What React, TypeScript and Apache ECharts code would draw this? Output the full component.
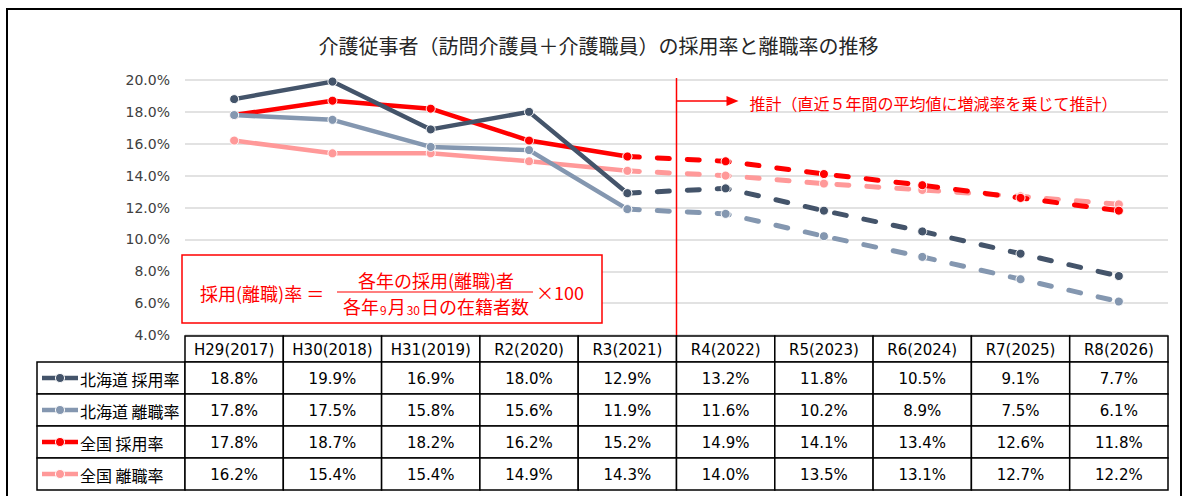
import React, { useEffect, useRef } from "react";
import * as echarts from "echarts";

const categories = [
  "H29(2017)", "H30(2018)", "H31(2019)", "R2(2020)", "R3(2021)",
  "R4(2022)", "R5(2023)", "R6(2024)", "R7(2025)", "R8(2026)",
];
const hokkaidoHire = [18.8, 19.9, 16.9, 18.0, 12.9, 13.2, 11.8, 10.5, 9.1, 7.7];
const hokkaidoLeave = [17.8, 17.5, 15.8, 15.6, 11.9, 11.6, 10.2, 8.9, 7.5, 6.1];
const nationalHire = [17.8, 18.7, 18.2, 16.2, 15.2, 14.9, 14.1, 13.4, 12.6, 11.8];
const nationalLeave = [16.2, 15.4, 15.4, 14.9, 14.3, 14.0, 13.5, 13.1, 12.7, 12.2];
const seriesNames = ["北海道 採用率", "北海道 離職率", "全国 採用率", "全国 離職率"];
const seriesColors = ["#44546A", "#8497B0", "#FF0000", "#FF9999"];
const seriesValues = [hokkaidoHire, hokkaidoLeave, nationalHire, nationalLeave];
const lastActualIndex = 4;
const yTicks = { min: 4, max: 20, interval: 2 };

const titleText = "介護従事者（訪問介護員＋介護職員）の採用率と離職率の推移";
const noteText = "推計（直近５年間の平均値に増減率を乗じて推計）";

const W = 1189;
const H = 496;
const gridLeft = 185;
const gridRightEdge = 1168;
const gridTop = 80;
const gridBottomEdge = 335;

const CJK = "'Noto Sans CJK JP', 'Noto Sans', sans-serif";
const NUM = "'DejaVu Sans', Verdana, sans-serif";

export default function App() {
  const ref = useRef<HTMLDivElement>(null);

  useEffect(() => {
    if (!ref.current) return;
    const chart = echarts.init(ref.current, undefined, { renderer: "svg", width: W, height: H });

    const series: any[] = [];
    seriesValues.forEach((vals, si) => {
      const color = seriesColors[si];
      const solid = vals.map((v, i) => (i <= lastActualIndex ? v : null));
      const dashed = vals.map((v, i) => (i >= lastActualIndex ? v : null));
      series.push({
        name: seriesNames[si],
        type: "line",
        data: solid,
        z: 10 - si,
        symbol: "circle",
        symbolSize: 9,
        itemStyle: { color, borderColor: "#fff", borderWidth: 1 },
        lineStyle: { color, width: 4.5, cap: "round", join: "round" },
        connectNulls: false,
      });
      series.push({
        name: seriesNames[si] + "（推計）",
        type: "line",
        data: dashed,
        z: 10 - si,
        symbol: "circle",
        symbolSize: 9,
        itemStyle: { color, borderColor: "#fff", borderWidth: 1 },
        lineStyle: { color, width: 5, type: [12, 18], cap: "round" },
        connectNulls: false,
      });
    });

    const n = categories.length;
    const colW = (gridRightEdge - gridLeft) / n;
    const headerTop = 336;
    const headerH = 26;
    const rowTop = headerTop + headerH;
    const rowH = 32;
    const legendLeft = 37;

    const graphics: any[] = [];
    // outer border
    graphics.push({
      type: "rect",
      shape: { x: 7, y: 9, width: 1174, height: 520 },
      style: { fill: "none", stroke: "#000", lineWidth: 2 },
      z: 100,
    });
    // title
    graphics.push({
      type: "text",
      x: W / 2 + 4,
      y: 45,
      style: {
        text: titleText,
        font: `20px ${CJK}`,
        fill: "#262626",
        textAlign: "center",
        textVerticalAlign: "middle",
      },
    });
    // projection divider
    const divX = gridLeft + colW * (lastActualIndex + 1);
    graphics.push({
      type: "line",
      shape: { x1: divX, y1: 78, x2: divX, y2: headerTop },
      style: { stroke: "#FF0000", lineWidth: 1.5 },
      z: 50,
    });
    graphics.push({
      type: "line",
      shape: { x1: divX, y1: 101, x2: divX + 52, y2: 101 },
      style: { stroke: "#FF0000", lineWidth: 1.5 },
      z: 50,
    });
    graphics.push({
      type: "polygon",
      shape: { points: [[divX + 50, 96], [divX + 62, 101], [divX + 50, 106]] },
      style: { fill: "#FF0000" },
      z: 50,
    });
    graphics.push({
      type: "text",
      x: divX + 73,
      y: 103,
      style: {
        text: noteText,
        font: `16px ${CJK}`,
        fill: "#FF0000",
        textVerticalAlign: "middle",
      },
      z: 50,
    });

    // formula box
    graphics.push({
      type: "rect",
      shape: { x: 182, y: 255, width: 420, height: 68 },
      style: { fill: "#fff", stroke: "#FF0000", lineWidth: 1.5 },
      z: 60,
    });
    graphics.push({
      type: "text",
      x: 200,
      y: 293,
      style: {
        text: "採用(離職)率 ＝",
        font: `18px ${CJK}`,
        fill: "#FF0000",
        textVerticalAlign: "middle",
      },
      z: 61,
    });
    graphics.push({
      type: "text",
      x: 436,
      y: 280,
      style: {
        text: "各年の採用(離職)者",
        font: `18px ${CJK}`,
        lineHeight: 20,
        fill: "#FF0000",
        textAlign: "center",
        textVerticalAlign: "middle",
      },
      z: 61,
    });
    graphics.push({
      type: "line",
      shape: { x1: 337, y1: 292, x2: 533, y2: 292 },
      style: { stroke: "#FF0000", lineWidth: 1.2 },
      z: 61,
    });
    graphics.push({
      type: "text",
      x: 436,
      y: 305,
      style: {
        text: "{a|各年}{s|9}{a|月}{s|30}{a|日の在籍者数}",
        textAlign: "center",
        textVerticalAlign: "middle",
        rich: {
          a: { font: `18px ${CJK}`, fill: "#FF0000", lineHeight: 20, verticalAlign: "bottom" },
          s: { font: `12px ${CJK}`, fill: "#FF0000", lineHeight: 20, verticalAlign: "bottom", padding: [0, 1, 0, 1] },
        },
      },
      z: 61,
    });
    graphics.push({
      type: "text",
      x: 536,
      y: 292,
      style: {
        text: "×100",
        font: `18px ${CJK}`,
        fill: "#FF0000",
        textVerticalAlign: "middle",
      },
      z: 61,
    });

    // data table header
    categories.forEach((c, i) => {
      const x = gridLeft + colW * i;
      graphics.push({
        type: "rect",
        shape: { x, y: headerTop, width: colW, height: headerH },
        style: { fill: "#fff", stroke: "#000", lineWidth: 1.5 },
        z: 70,
      });
      graphics.push({
        type: "text",
        x: x + colW / 2,
        y: headerTop + headerH / 2 + 1,
        style: {
          text: c,
          font: `15px ${NUM}`,
          fill: "#000",
          textAlign: "center",
          textVerticalAlign: "middle",
        },
        z: 71,
      });
    });
    // data rows
    seriesValues.forEach((vals, si) => {
      const y = rowTop + rowH * si;
      const color = seriesColors[si];
      graphics.push({
        type: "rect",
        shape: { x: legendLeft, y, width: gridLeft - legendLeft, height: rowH },
        style: { fill: "#fff", stroke: "#000", lineWidth: 1.5 },
        z: 70,
      });
      graphics.push({
        type: "line",
        shape: { x1: legendLeft + 5, y1: y + rowH / 2, x2: legendLeft + 41, y2: y + rowH / 2 },
        style: { stroke: color, lineWidth: 4.5 },
        z: 71,
      });
      graphics.push({
        type: "circle",
        shape: { cx: legendLeft + 23, cy: y + rowH / 2, r: 4.5 },
        style: { fill: color, stroke: "#fff", lineWidth: 1 },
        z: 72,
      });
      graphics.push({
        type: "text",
        x: legendLeft + 43,
        y: y + rowH / 2 + 1,
        style: {
          text: seriesNames[si],
          font: `16px ${CJK}`,
          fill: "#000",
          textVerticalAlign: "middle",
        },
        z: 71,
      });
      vals.forEach((v, i) => {
        const x = gridLeft + colW * i;
        graphics.push({
          type: "rect",
          shape: { x, y, width: colW, height: rowH },
          style: { fill: "#fff", stroke: "#000", lineWidth: 1.5 },
          z: 70,
        });
        graphics.push({
          type: "text",
          x: x + colW / 2,
          y: y + rowH / 2 + 1,
          style: {
            text: v.toFixed(1) + "%",
            font: `15px ${NUM}`,
            fill: "#000",
            textAlign: "center",
            textVerticalAlign: "middle",
          },
          z: 71,
        });
      });
    });

    chart.setOption({
      animation: false,
      backgroundColor: "#fff",
      grid: {
        left: gridLeft,
        right: W - gridRightEdge,
        top: gridTop,
        bottom: H - gridBottomEdge,
        containLabel: false,
      },
      xAxis: {
        type: "category",
        data: categories,
        boundaryGap: true,
        axisLine: { show: false },
        axisTick: { show: false },
        axisLabel: { show: false },
      },
      yAxis: {
        type: "value",
        min: yTicks.min,
        max: yTicks.max,
        interval: yTicks.interval,
        axisLine: { show: false },
        axisTick: { show: false },
        splitLine: { lineStyle: { color: "#D9D9D9", width: 1.5 } },
        axisLabel: {
          formatter: (v: number) => v.toFixed(1) + "%",
          color: "#404040",
          fontFamily: NUM,
          fontSize: 14,
          margin: 15,
        },
      },
      series,
      graphic: graphics,
    });

    return () => chart.dispose();
  }, []);

  return (
    <div
      ref={ref}
      style={{ position: "fixed", left: 0, top: 0, width: W, height: H, background: "#fff" }}
    />
  );
}
